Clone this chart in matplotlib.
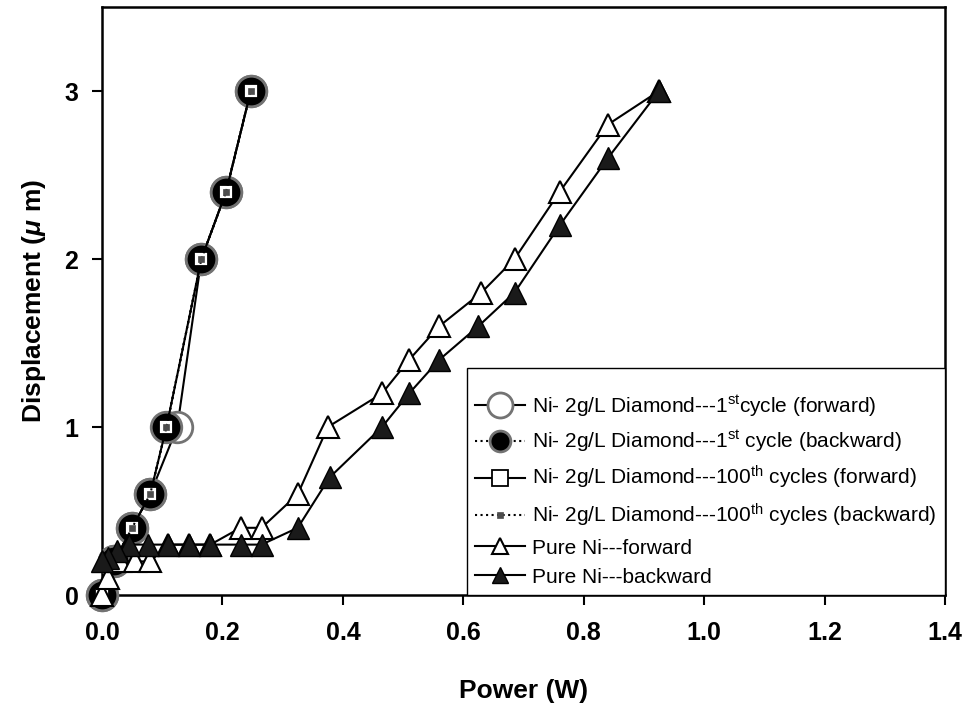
import matplotlib
matplotlib.use("Agg")
import matplotlib.pyplot as plt
from matplotlib.lines import Line2D

plt.rcParams['font.family'] = ['Liberation Sans', 'DejaVu Sans']
plt.rcParams['mathtext.fontset'] = 'custom'
plt.rcParams['mathtext.rm'] = 'Liberation Sans'
plt.rcParams['mathtext.it'] = 'Liberation Sans:bold:italic'
plt.rcParams['mathtext.bf'] = 'Liberation Sans:bold'

# Ni - 2g/L diamond composite, 1st cycle
d1_fwd_power = [0.0, 0.02, 0.05, 0.08, 0.125, 0.165, 0.206, 0.247]
d1_fwd_disp = [0.0, 0.2, 0.4, 0.6, 1.0, 2.0, 2.4, 3.0]
d1_bwd_power = [0.0, 0.02, 0.05, 0.08, 0.107, 0.165, 0.206, 0.247]
d1_bwd_disp = [0.0, 0.2, 0.4, 0.6, 1.0, 2.0, 2.4, 3.0]

# Ni - 2g/L diamond composite, 100th cycle
d100_fwd_power = [0.0, 0.02, 0.05, 0.08, 0.107, 0.165, 0.206, 0.247]
d100_fwd_disp = [0.0, 0.2, 0.4, 0.6, 1.0, 2.0, 2.4, 3.0]
d100_bwd_power = [0.0, 0.02, 0.05, 0.08, 0.107, 0.165, 0.206, 0.247]
d100_bwd_disp = [0.0, 0.2, 0.4, 0.6, 1.0, 2.0, 2.4, 3.0]

# Pure Ni
ni_fwd_power = [0.0, 0.01, 0.03, 0.055, 0.08, 0.11, 0.145, 0.18, 0.23, 0.265,
                0.325, 0.375, 0.465, 0.51, 0.56, 0.63, 0.685, 0.76, 0.84, 0.925]
ni_fwd_disp = [0.0, 0.1, 0.2, 0.2, 0.2, 0.3, 0.3, 0.3, 0.4, 0.4,
               0.6, 1.0, 1.2, 1.4, 1.6, 1.8, 2.0, 2.4, 2.8, 3.0]
ni_bwd_power = [0.925, 0.84, 0.76, 0.685, 0.625, 0.56, 0.51, 0.465, 0.378, 0.325,
                0.265, 0.23, 0.18, 0.145, 0.11, 0.077, 0.045, 0.025, 0.01, 0.0]
ni_bwd_disp = [3.0, 2.6, 2.2, 1.8, 1.6, 1.4, 1.2, 1.0, 0.7, 0.4,
               0.3, 0.3, 0.3, 0.3, 0.3, 0.3, 0.3, 0.26, 0.22, 0.2]

labels = [
    r'Ni- 2g/L Diamond---1$^{\mathrm{st}}$cycle (forward)',
    r'Ni- 2g/L Diamond---1$^{\mathrm{st}}$ cycle (backward)',
    r'Ni- 2g/L Diamond---100$^{\mathrm{th}}$ cycles (forward)',
    r'Ni- 2g/L Diamond---100$^{\mathrm{th}}$ cycles (backward)',
    'Pure Ni---forward',
    'Pure Ni---backward',
]

styles = [
    dict(color='black', lw=1.5, ls='-', marker='o', mfc='white', mec='0.45', mew=2.0),
    dict(color='black', lw=1.5, ls=':', marker='o', mfc='black', mec='0.45', mew=2.0),
    dict(color='black', lw=1.5, ls='-', marker='s', mfc='white', mec='black', mew=1.3),
    dict(color='black', lw=1.5, ls=':', marker='s', mfc='0.3', mec='0.3', mew=0.5),
    dict(color='black', lw=1.5, ls='-', marker='^', mfc='white', mec='black', mew=1.5),
    dict(color='black', lw=1.5, ls='-', marker='^', mfc='0.1', mec='black', mew=1.0),
]
plot_sizes = [22, 22, 10, 5, 16, 16]
legend_sizes = [18, 15, 11, 5, 11, 11]

fig = plt.figure(figsize=(9.68, 7.07), dpi=100)
ax = fig.add_axes([0.1054, 0.1584, 0.8709, 0.8317])

series = [
    (d1_fwd_power, d1_fwd_disp),
    (d1_bwd_power, d1_bwd_disp),
    (d100_fwd_power, d100_fwd_disp),
    (d100_bwd_power, d100_bwd_disp),
    (ni_fwd_power, ni_fwd_disp),
    (ni_bwd_power, ni_bwd_disp),
]
for idx, (xs, ys) in enumerate(series):
    ax.plot(xs, ys, ms=plot_sizes[idx], clip_on=False, zorder=3, **styles[idx])

ax.set_xlim(0, 1.4)
ax.set_ylim(0, 3.5)
ax.set_xticks([0.0, 0.2, 0.4, 0.6, 0.8, 1.0, 1.2, 1.4])
ax.set_xticklabels(['0.0', '0.2', '0.4', '0.6', '0.8', '1.0', '1.2', '1.4'])
ax.set_yticks([0, 1, 2, 3])
ax.tick_params(direction='out', length=7, width=1.5, labelsize=18,
               top=False, right=False)
ax.tick_params(axis='x', pad=12)
ax.tick_params(axis='y', pad=10)
for lab in ax.get_xticklabels() + ax.get_yticklabels():
    lab.set_fontweight('bold')
for sp in ax.spines.values():
    sp.set_linewidth(1.8)

ax.set_xlabel('Power (W)', fontsize=19, fontweight='bold', labelpad=24)
ax.set_ylabel(r'Displacement ($\mu\ $m)', fontsize=19, fontweight='bold', labelpad=12)

# blank title gives the box some headroom above the first entry
handles = [Line2D([], [], ms=legend_sizes[i], **styles[i]) for i in range(6)]
leg = ax.legend(handles, labels, loc='lower right', borderaxespad=0, fontsize=15,
                handlelength=2.4, handletextpad=0.35, labelspacing=0.48,
                borderpad=0.4, fancybox=False, framealpha=1, edgecolor='black',
                title=' ', title_fontsize=6)
leg.get_frame().set_linewidth(1.0)
leg.set_zorder(5)

fig.savefig('out.png', dpi=100)
